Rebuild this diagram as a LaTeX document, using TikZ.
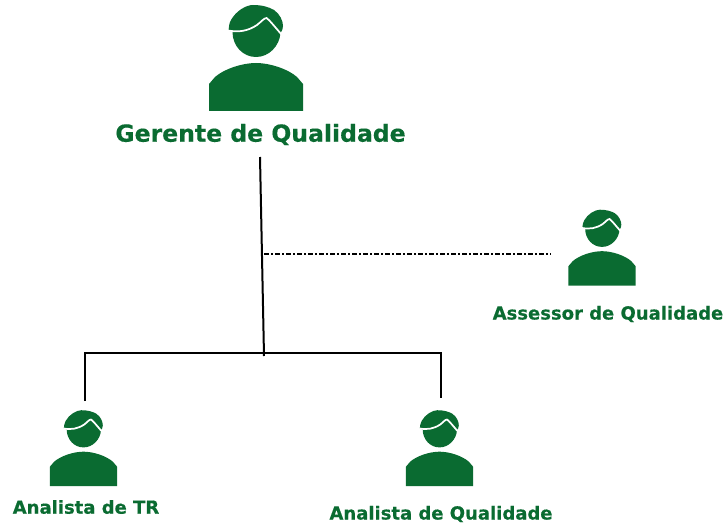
\documentclass[tikz,border=0pt]{standalone}
\usepackage{fontspec}
\setmainfont{DejaVu Sans}[BoldFeatures={FakeBold=0.4}]
\definecolor{qgreen}{HTML}{0A6B31}
\tikzset{
  x=0.75pt,y=-0.75pt,
  role/.style={text=qgreen,font=\bfseries\fontsize{13.5pt}{16pt}\selectfont,inner sep=0pt,anchor=center},
  bigrole/.style={text=qgreen,font=\bfseries\fontsize{17.65pt}{20pt}\selectfont,inner sep=0pt,anchor=center},
  orgline/.style={black,line width=1.5pt,line cap=butt},
  person/.pic={
    % body
    \fill[qgreen] (-47,0) -- (-47,-27) -- (-41,-34) .. controls (-32,-42) and (-14,-48) .. (0,-48)
      .. controls (14,-48) and (32,-42) .. (41,-34) -- (47,-27) -- (47,0) -- cycle;
    % head
    \fill[qgreen] (-27.5,-80.5) .. controls (-27,-84) and (-27,-88) .. (-25,-91)
      .. controls (-20,-100) and (-10,-106) .. (-3,-106)
      .. controls (6,-106) and (13,-104) .. (18,-101)
      .. controls (24,-97) and (27,-90) .. (27,-85)
      .. controls (27,-82) and (26,-80) .. (24.5,-78)
      .. controls (23.5,-65) and (13,-54) .. (0,-54)
      .. controls (-13,-54) and (-23.5,-65) .. (-23.5,-79) -- cycle;
    % hair line
    \draw[white,line width=1.3pt] (-28,-80.5) .. controls (-17,-78.5) and (-8,-80) .. (1,-86)
      .. controls (5,-89) and (8,-93) .. (10.5,-93) .. controls (13,-91.5) and (19,-84) .. (25.5,-76.5);
  }
}
\begin{document}
\begin{tikzpicture}
\useasboundingbox (0,0) rectangle (727,524);
\pic at (256,111) {person};
\pic[scale=0.715] at (602,285.5) {person};
\pic[scale=0.715] at (83.5,486) {person};
\pic[scale=0.715] at (439.5,486) {person};
\node[bigrole] (gq) at (260.5,134.5) {Gerente de Qualidade};
\node[role] (aq) at (608,314) {Assessor de Qualidade};
\node[role] (tr) at (86,507) {Analista de TR};
\node[role] (anq) at (441,514) {Analista de Qualidade};
\coordinate (top) at (260,157);
\coordinate (mid) at (264,356);
\coordinate (dashstart) at (264,254.3);
\coordinate (dashend) at (551,254.3);
\coordinate (barl) at (85,353);
\coordinate (barr) at (441,353);
\coordinate (tl) at (85,401);
\coordinate (tq) at (441,398);
\draw[orgline] (top) -- (mid);
\draw[orgline] (tl) -- (barl) -- (barr) -- (tq);
\draw[black,line width=1.3pt,dash pattern=on 3.75pt off 1.5pt on 1.5pt off 1.5pt] (dashstart) -- (dashend);
\end{tikzpicture}
\end{document}
